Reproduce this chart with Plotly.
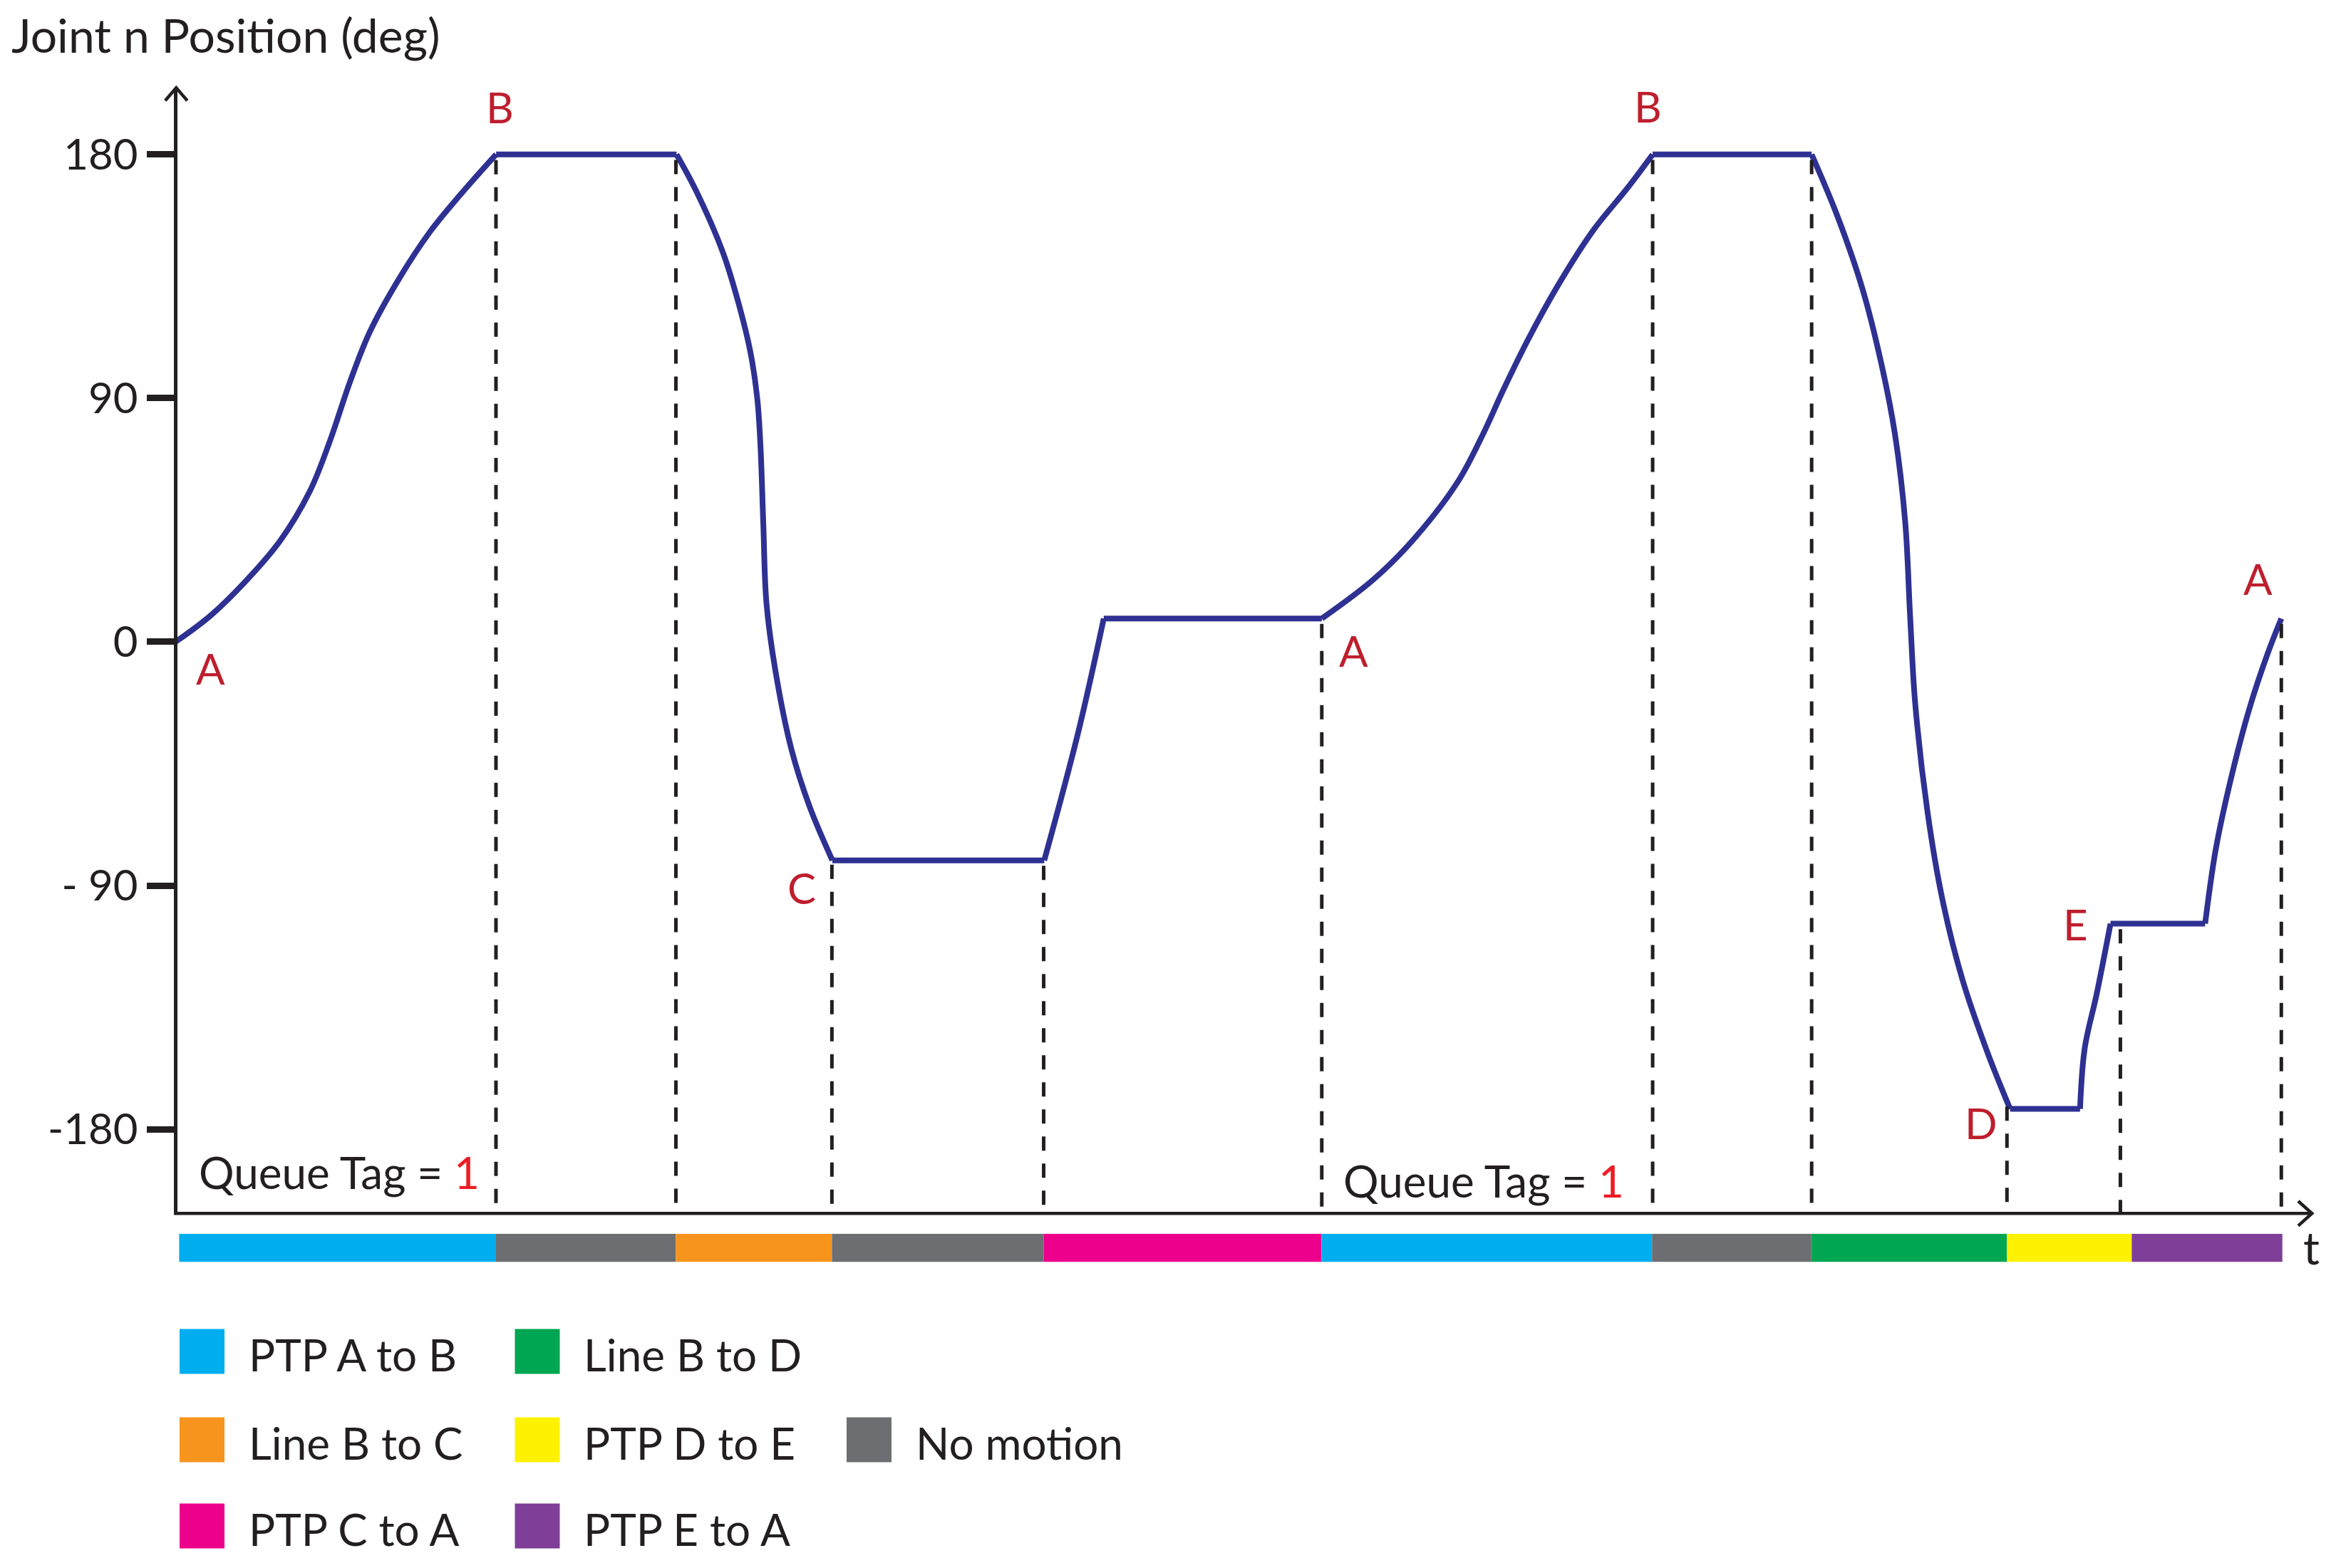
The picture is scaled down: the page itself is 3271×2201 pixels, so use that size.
import plotly.graph_objects as go
import numpy as np

# joint position curve (t in arbitrary time units, position in deg)
T = [-0.18, 0.0, 0.23, 0.464, 0.698, 0.899, 1.033, 1.167, 1.30, 1.501, 1.702, 1.902, 2.145,
     3.352, 3.482, 3.664, 3.771, 3.847, 3.893, 3.914, 3.933, 3.954, 4.014, 4.121, 4.243, 4.395,
     5.813, 6.038, 6.211,
     7.67, 8.011, 8.279, 8.579, 8.747, 8.881, 9.048, 9.249, 9.483, 9.717, 9.884,
     10.948, 11.122, 11.289, 11.423, 11.506, 11.574, 11.607, 11.641, 11.724, 11.824, 11.958, 12.125, 12.276,
     12.744, 12.775, 12.856, 12.948,
     13.581, 13.653, 13.754, 13.877, 13.999, 14.091]
DEG = [0, 0, 9.5, 22.1, 37.2, 55.7, 74.2, 96.0, 114.5, 134.6, 151.4, 164.9, 180,
       180, 166.7, 143.6, 124.3, 106.9, 89.6, 72.2, 43.3, 14.3, -10.7, -39.7, -60.9, -80.7,
       -80.7, -33.9, 8.6,
       8.6, 22.8, 37.5, 59.0, 76.5, 92.6, 111.4, 131.5, 151.7, 167.7, 180,
       180, 157.0, 130.2, 100.6, 76.5, 44.3, 9.4, -22.8, -63.1, -95.4, -124.9, -151.7, -172.5,
       -172.5, -150.2, -129.9, -104.1,
       -104.1, -76.4, -50.5, -24.7, -4.4, 8.6]
# indices where the curve has a sharp corner
CORNERS = [1, 12, 13, 25, 26, 28, 29, 39, 40, 52, 53, 56, 57]

# vertical dashed guide lines
DASH_T = [2.144, 3.348, 4.392, 5.809, 7.67, 9.884, 10.948, 12.255, 13.014, 14.091]

# point labels: text, curve index, offset in px
PT_LABELS = ["A", "B", "C", "A", "B", "D", "E", "A"]
PT_INDEX = [1, 12, 25, 29, 39, 52, 56, 62]
PT_SHIFT = [(49, -37), (5, 67), (-43, -38), (45, -45), (-7, 68), (-41, -19), (-49, 0), (-33, 56)]

# motion bar under the time axis
SEG_START = [0.024, 2.144, 3.348, 4.392, 5.809, 7.668, 9.88, 10.946, 12.255, 13.09]
SEG_END = [2.144, 3.348, 4.392, 5.809, 7.668, 9.88, 10.946, 12.255, 13.09, 14.098]
SEG_TYPE = ["PTP A to B", "No motion", "Line B to C", "No motion", "PTP C to A",
            "PTP A to B", "No motion", "Line B to D", "PTP D to E", "PTP E to A"]

LEG_NAMES = ["PTP A to B", "Line B to D", "Line B to C", "PTP D to E", "No motion", "PTP C to A", "PTP E to A"]
LEG_ROW = [0, 0, 1, 1, 1, 2, 2]
LEG_COL = [0, 1, 0, 1, 2, 0, 1]
COLORS = {"PTP A to B": "#00AEEF", "No motion": "#6D6E71", "Line B to C": "#F7941D",
          "PTP C to A": "#EC008C", "Line B to D": "#00A651", "PTP D to E": "#FFF200",
          "PTP E to A": "#7F3F98"}

Y_TICKS = [180, 90, 0, -90, -180]
Y_TICKTEXT = ["180", "90", "0", "- 90", "-180"]

W, H = 3271, 2201
INK = "#231F20"
RED = "#BE1E2D"
FONT = "Lato"


def px(x):
    return x / W


def py(y):
    return 1 - y / H


fig = go.Figure()

# curve, one spline per motion piece so corners stay sharp
cuts = [0] + CORNERS + [len(T) - 1]
for a, b in zip(cuts[:-1], cuts[1:]):
    fig.add_trace(go.Scatter(x=T[a:b + 1], y=DEG[a:b + 1], mode="lines",
                             line=dict(color="#2E3192", width=8, shape="spline", smoothing=1.0),
                             hoverinfo="skip", showlegend=False))

# dashed lines from the curve down to the time axis
tops = np.interp(DASH_T, T, DEG)
dx, dy = [], []
for t, top in zip(DASH_T, tops):
    dx += [t, t, None]
    dy += [top - 2, -211, None]
fig.add_trace(go.Scatter(x=dx, y=dy, mode="lines",
                         line=dict(color=INK, width=5, dash="20px,18px"),
                         hoverinfo="skip", showlegend=False))

# motion colour bar
fig.add_trace(go.Bar(y=[0] * len(SEG_START),
                     x=[e - s for s, e in zip(SEG_START, SEG_END)],
                     base=SEG_START, orientation="h", width=1,
                     marker=dict(color=[COLORS[s] for s in SEG_TYPE], line=dict(width=0)),
                     yaxis="y2", hoverinfo="skip", showlegend=False))

# legend swatches
LEG_X = [283.5, 754, 1219.5]
LEG_Y = [1897, 2021, 2142]
fig.add_trace(go.Scatter(x=[LEG_X[c] for c in LEG_COL], y=[LEG_Y[r] for r in LEG_ROW],
                         mode="markers", xaxis="x3", yaxis="y3",
                         marker=dict(symbol="square", size=63, color=[COLORS[n] for n in LEG_NAMES],
                                     line=dict(width=0)),
                         hoverinfo="skip", showlegend=False))

ann = []
ann.append(dict(text="Joint n Position (deg)", xref="paper", yref="paper", x=px(14), y=py(48),
                xanchor="left", yanchor="middle", showarrow=False,
                font=dict(family=FONT, size=66, color=INK)))
ann.append(dict(text="t", xref="paper", yref="paper", x=px(3243), y=py(1750),
                xanchor="center", yanchor="middle", showarrow=False,
                font=dict(family=FONT, size=64, color=INK)))
for lab, i, (sx, sy) in zip(PT_LABELS, PT_INDEX, PT_SHIFT):
    ann.append(dict(text=lab, x=T[i], y=DEG[i], xref="x", yref="y", xshift=sx, yshift=sy,
                    showarrow=False, xanchor="center", yanchor="middle",
                    font=dict(family=FONT, size=60, color=RED)))
for qx, qy in [(0.145, -195.8), (7.804, -198.9)]:
    ann.append(dict(text="Queue Tag = <span style='color:#ED1C24'>1</span>", x=qx, y=qy,
                    xref="x", yref="y", xanchor="left", yanchor="middle", showarrow=False,
                    font=dict(family=FONT, size=62, color=INK)))
for n, r, c in zip(LEG_NAMES, LEG_ROW, LEG_COL):
    ann.append(dict(text=n, xref="x3", yref="y3", x=LEG_X[c] + 63, y=LEG_Y[r] + 4,
                    xanchor="left", yanchor="middle", showarrow=False,
                    font=dict(family=FONT, size=62, color=INK)))

shapes = [
    dict(type="line", xref="paper", yref="paper", x0=px(244), x1=px(3243), y0=py(1703.3), y1=py(1703.3),
         line=dict(color=INK, width=4.5)),
    dict(type="path", xref="paper", yref="paper",
         path=f"M {px(231.8)} {py(141.3)} L {px(247.3)} {py(123.3)} L {px(262.8)} {py(141.3)}",
         line=dict(color=INK, width=4.5)),
    dict(type="path", xref="paper", yref="paper",
         path=f"M {px(3225)} {py(1686)} L {px(3244.3)} {py(1703.3)} L {px(3225)} {py(1720.6)}",
         line=dict(color=INK, width=4.5)),
]

fig.update_layout(
    width=W, height=H, template="none",
    margin=dict(l=0, r=0, t=0, b=0),
    paper_bgcolor="white", plot_bgcolor="rgba(0,0,0,0)",
    barmode="overlay", showlegend=False,
    xaxis=dict(domain=[px(208), px(3244.3)], range=[-0.183, 14.296],
               showline=False, showgrid=False, zeroline=False, showticklabels=False, ticks=""),
    yaxis=dict(domain=[py(1703.3), py(123.3)], range=[-211.1, 204.6],
               anchor="free", position=px(246.4),
               showline=True, linewidth=4.5, linecolor=INK,
               ticks="outside", ticklen=39, tickwidth=9, tickcolor=INK,
               tickvals=Y_TICKS, ticktext=Y_TICKTEXT,
               tickfont=dict(family=FONT, size=60, color=INK),
               showgrid=False, zeroline=False),
    yaxis2=dict(domain=[py(1771.6), py(1731.8)], range=[-0.5, 0.5], anchor="x", visible=False),
    xaxis3=dict(domain=[0, 1], range=[0, W], anchor="y3", visible=False),
    yaxis3=dict(domain=[0, 1], range=[H, 0], anchor="x3", visible=False),
    annotations=ann, shapes=shapes,
)

# the page body has a default 8px margin; drop it so the figure sits at the top-left corner
fig.write_html("out.html", config={"displayModeBar": False},
               post_script="document.body.style.margin='0';")
